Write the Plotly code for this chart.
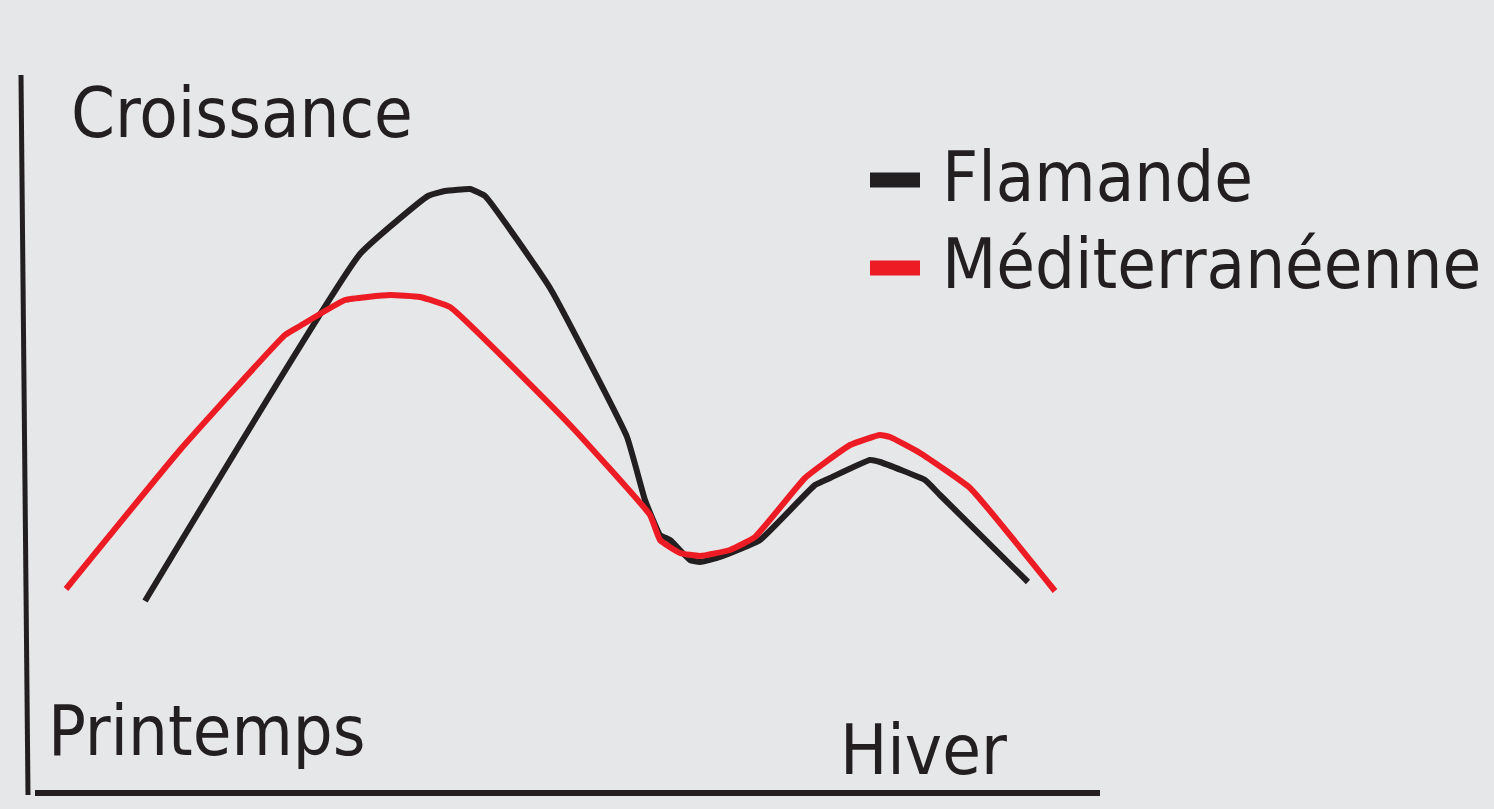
import plotly.graph_objects as go

# Flamande (black) curve: time position (px scale) and growth level
flam_x = [145, 360, 428, 445, 470, 485, 550, 627, 645, 660, 670, 690, 700, 720, 760, 815, 830, 870, 880, 925, 940, 1028]
flam_y = [601, 254, 196, 191, 189, 196, 288, 437, 500, 535, 540, 560, 562, 557, 540, 485, 478, 460, 462, 480, 495, 582]

# Méditerranéenne (red) curve
med_x = [66, 180, 285, 300, 345, 390, 420, 450, 570, 650, 660, 680, 700, 730, 755, 805, 850, 880, 890, 920, 970, 1055]
med_y = [589, 450, 335, 326, 300, 295, 297, 307, 425, 515, 540, 553, 556, 550, 537, 478, 445, 435, 437, 453, 488, 591]

H = 809
flam_g = [H - v for v in flam_y]
med_g = [H - v for v in med_y]

BLACK = "#231f20"
RED = "#ed1c24"
BG = "#e6e7e9"
FONT = "Liberation Sans Narrow, DejaVu Sans Condensed, sans-serif"

fig = go.Figure()
fig.add_trace(go.Scatter(x=flam_x, y=flam_g, mode="lines", name="Flamande",
                         line=dict(color=BLACK, width=6, shape="spline", smoothing=0.35)))
fig.add_trace(go.Scatter(x=med_x, y=med_g, mode="lines", name="Méditerranéenne",
                         line=dict(color=RED, width=6, shape="spline", smoothing=0.35)))

# axes lines
fig.add_shape(type="line", x0=21, y0=H - 75, x1=28, y1=H - 795, line=dict(color=BLACK, width=5))
fig.add_shape(type="line", x0=35, y0=H - 793, x1=1100, y1=H - 793, line=dict(color=BLACK, width=6))

# legend marks
fig.add_shape(type="line", x0=870, y0=H - 180, x1=920, y1=H - 180, line=dict(color=BLACK, width=15))
fig.add_shape(type="line", x0=870, y0=H - 268, x1=920, y1=H - 268, line=dict(color=RED, width=15))

def txt(s, x, y):
    fig.add_annotation(text=s, x=x, y=H - y, xref="x", yref="y", showarrow=False,
                       xanchor="left", yanchor="middle",
                       font=dict(family=FONT, size=70, color=BLACK))

txt("Croissance", 69, 113)
txt("Flamande", 940, 177)
txt("Méditerranéenne", 940, 264)
txt("Printemps", 46, 731)
txt("Hiver", 838, 750)

fig.update_layout(
    width=1494, height=809,
    margin=dict(l=0, r=0, t=0, b=0),
    paper_bgcolor=BG, plot_bgcolor=BG,
    showlegend=False,
    xaxis=dict(range=[0, 1494], visible=False, fixedrange=True),
    yaxis=dict(range=[0, H], visible=False, fixedrange=True),
)
fig.write_html("out.html", config={"displayModeBar": False},
               post_script="document.body.style.margin='0';document.body.style.background='#e6e7e9';")
